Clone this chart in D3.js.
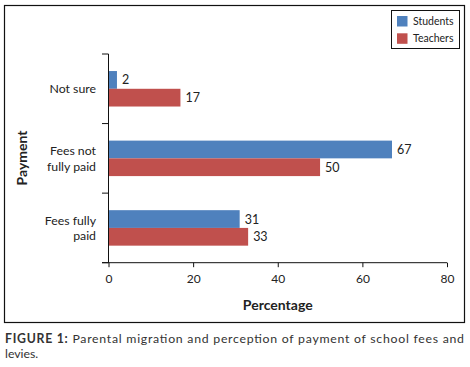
<!DOCTYPE html>
<html><head><meta charset="utf-8">
<script src="https://cdn.jsdelivr.net/npm/d3@7"></script>
<style>body{margin:0;background:#fff}svg{display:block}text{font-family:Lato,"Open Sans",sans-serif}</style>
</head><body><svg id="c" width="470" height="367"></svg>
<script>
const categories = ["Not sure", "Fees not fully paid", "Fees fully paid"];
const categoryLines = [["Not sure"], ["Fees not", "fully paid"], ["Fees fully", "paid"]];
const seriesNames = ["Students", "Teachers"];
const students = [2, 67, 31];
const teachers = [17, 50, 33];
const xTicks = [0, 20, 40, 60, 80];
const colors = ["#4F81BD", "#C0504D"];

const svg = d3.select("#c");
const txt = "#222";
// outer frame
svg.append("rect").attr("x", 4.5).attr("y", 5.5).attr("width", 460).attr("height", 317)
  .attr("fill", "none").attr("stroke", "#111").attr("stroke-width", 1.2);

const x = d3.scaleLinear().domain([0, 80]).range([108.5, 447]);
const y = d3.scaleBand().domain(categories).range([54, 262.7]).padding(0);
const sub = d3.scaleBand().domain(seriesNames).range([y.bandwidth()*0.245, y.bandwidth()*0.755]);

const g = svg.append("g");
const values = [students, teachers];
categories.forEach((c, i) => {
  seriesNames.forEach((s, j) => {
    const v = values[j][i];
    g.append("rect").attr("x", x(0)).attr("y", y(c) + sub(s))
      .attr("width", x(v) - x(0)).attr("height", sub.bandwidth()).attr("fill", colors[j]);
    g.append("text").attr("x", x(v) + 5).attr("y", y(c) + sub(s) + sub.bandwidth()/2)
      .attr("dy", "0.36em").attr("font-size", 12.5).attr("fill", txt).text(v);
  });
  const lines = categoryLines[i];
  const t = g.append("text").attr("text-anchor", "end").attr("font-size", 12.3).attr("fill", txt);
  const cy = y(c) + y.bandwidth()/2;
  lines.forEach((l, k) => {
    t.append("tspan").attr("x", 96).attr("y", cy + (k - (lines.length-1)/2)*15.5).attr("dy", "0.36em").text(l);
  });
});

// y axis line + category ticks
const ax = svg.append("g").attr("stroke", "#111").attr("stroke-width", 1);
ax.append("line").attr("x1", x(0)).attr("x2", x(0)).attr("y1", 54).attr("y2", 262.7);
const boundaries = categories.map(c => y(c)).concat([y.range()[1]]);
boundaries.forEach(b => ax.append("line").attr("x1", 102).attr("x2", x(0)).attr("y1", b).attr("y2", b));
// x axis
const xa = svg.append("g").attr("transform", "translate(0,262.7)")
  .call(d3.axisBottom(x).tickValues(xTicks).tickSize(4.5).tickSizeOuter(0));
xa.select(".domain").attr("d", `M102,0H${x(80)}`).attr("stroke", "#111");
xa.selectAll(".tick line").attr("stroke", "#111");
xa.selectAll(".tick text").attr("font-size", 12).attr("fill", txt).attr("dy", "1.05em")
  .attr("font-family", "Lato, sans-serif");

// axis titles
svg.append("text").attr("x", x(40)).attr("y", 305).attr("dy", "0.36em").attr("text-anchor", "middle")
  .attr("font-size", 14).attr("font-weight", "bold").attr("fill", txt).text("Percentage");
svg.append("text").attr("transform", "translate(22,158) rotate(-90)").attr("dy", "0.36em")
  .attr("text-anchor", "middle").attr("font-size", 14).attr("font-weight", "bold").attr("fill", txt).text("Payment");

// legend
const lg = svg.append("g");
lg.append("rect").attr("x", 391.5).attr("y", 10.5).attr("width", 68).attr("height", 38)
  .attr("fill", "#fff").attr("stroke", "#111").attr("stroke-width", 1);
seriesNames.forEach((s, j) => {
  lg.append("rect").attr("x", 397).attr("y", 16 + j*17.3).attr("width", 10.5).attr("height", 10.5).attr("fill", colors[j]);
  lg.append("text").attr("x", 413).attr("y", 21.3 + j*17.3).attr("dy", "0.36em").attr("font-size", 10.5)
    .attr("fill", txt).text(s);
});

// caption
const cap = svg.append("text").attr("x", 5).attr("y", 343).attr("font-size", 12.3).attr("fill", "#333")
  .attr("textLength", 459).attr("lengthAdjust", "spacing");
cap.append("tspan").attr("font-weight", "bold").text("FIGURE 1:");
cap.append("tspan").text(" Parental migration and perception of payment of school fees and");
svg.append("text").attr("x", 5).attr("y", 357.5).attr("font-size", 12.3).attr("fill", "#333").text("levies.");
</script></body></html>
